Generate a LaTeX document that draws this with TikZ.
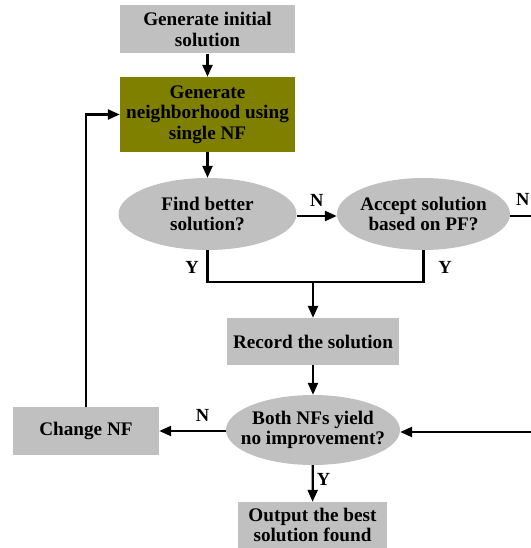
\documentclass[tikz,border=0pt]{standalone}
\usepackage{fontspec}
\setmainfont{Liberation Serif}
\usetikzlibrary{shapes.geometric,arrows.meta}
\definecolor{boxgray}{HTML}{C0C0C0}
\definecolor{olivebox}{HTML}{808000}
\tikzset{
  base/.style={font=\fontsize{19.2}{20.5}\selectfont\bfseries, align=center, inner sep=0pt, draw=none},
  procbox/.style={base, rectangle, fill=boxgray},
  activebox/.style={base, rectangle, fill=olivebox},
  decision/.style={ellipse, fill=boxgray, draw=none, inner sep=0pt},
  dtext/.style={base},
  flow/.style={line width=2.3pt, -{Triangle[length=12pt,width=10pt]}},
  plain/.style={line width=2.3pt},
  yn/.style={font=\fontsize{18.5}{20}\selectfont\bfseries, inner sep=0pt}
}
\begin{document}
\begin{tikzpicture}[x=1pt,y=-1pt]
\useasboundingbox (0,0) rectangle (530,548);

% process boxes
\node[procbox, minimum width=175pt, minimum height=48pt] (init) at (207.5,29.5) {Generate initial\\solution};
\node[activebox, minimum width=175pt, minimum height=75pt] (gen) at (207.5,114.5) {Generate\\neighborhood using\\single NF};
\node[procbox, minimum width=172pt, minimum height=47pt] (record) at (313,341.5) {Record the solution};
\node[procbox, minimum width=146pt, minimum height=48pt] (change) at (86,431) {Change NF};
\node[procbox, minimum width=149pt, minimum height=46pt] (output) at (312.5,525) {Output the best\\solution found};

% decisions: fixed-size ellipses with their text laid on top
\node[decision, minimum width=178pt, minimum height=72pt] (find) at (207.5,214) {};
\node[dtext] (findText) at (find.center) {Find better\\solution?};
\node[decision, minimum width=173pt, minimum height=72pt] (accept) at (423.5,214) {};
\node[dtext] (acceptText) at (accept.center) {Accept solution\\based on PF?};
\node[decision, minimum width=174pt, minimum height=70pt] (both) at (313,430) {};
\node[dtext] (bothText) at (both.center) {Both NFs yield\\no improvement?};

% helper points
\coordinate (join) at (313,282);
\coordinate (joinL) at (find.south |- join);
\coordinate (joinR) at (accept.south |- join);
\coordinate (rightOut) at (531,216);
\coordinate (rightIn) at (531,432);
\coordinate (loopCorner) at (change.north |- gen.west);

% connectors
\draw[flow] (init) -- (gen);
\draw[flow] (gen) -- (find);
\draw[flow] (find.east |- rightOut) -- node[yn, above=8pt] {N} (accept.west |- rightOut);
\draw[plain] (accept.east |- rightOut) -- (rightOut);
\node[yn, anchor=west] (nRight) at (516,199) {N};
\draw[plain] (find.south) -- (joinL) -- (joinR) -- (accept.south);
\node[yn] (yLeft) at (192,267) {Y};
\node[yn] (yRight) at (445,267) {Y};
\draw[flow] (join) -- (record);
\draw[flow] (record) -- (both);
\draw[flow] (rightIn) -- (both.east |- rightIn);
\draw[flow] (both.west |- change) -- node[yn, above=8pt, pos=0.35] {N} (change);
\draw[plain] (change.north) -- (loopCorner);
\draw[flow] ([xshift=-1.15pt]loopCorner) -- (gen.west);
\draw[flow] (both) -- node[yn, right=3pt, pos=0.4] {Y} (output);
\end{tikzpicture}
\end{document}
